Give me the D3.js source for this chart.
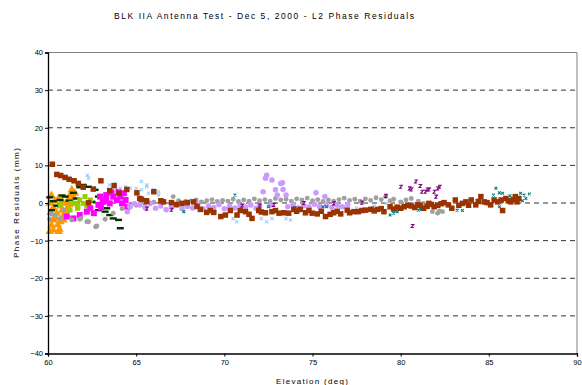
<!DOCTYPE html>
<html><head><meta charset="utf-8">
<script src="https://cdn.jsdelivr.net/npm/d3@7"></script>
<style>
html,body{margin:0;padding:0;background:#fff;}
svg{display:block;font-family:"Liberation Sans",Arial,sans-serif;}
</style></head>
<body>
<svg id="chart" width="582" height="385"></svg>
<script>
const titleText = "BLK IIA  Antenna Test - Dec 5, 2000 - L2 Phase Residuals";
const xLabel = "Elevation (deg)";
const yLabel = "Phase Residuals (mm)";
const xTicks = [60, 65, 70, 75, 80, 85, 90];
const yTicks = [-40, -30, -20, -10, 0, 10, 20, 30, 40];
const gridValues = [-30, -20, -10, 0, 10, 20, 30];

const orangeSeries = [[60.1,-7.6],[60.2,-5.9],[60.3,-7.2],[60.6,-7.6],[60.65,-7.0],[60.3,-4.5],[60.5,-2.7],[60.87,-4.5],[61.06,-3.2],[60.8,-1.9],[61.0,-0.1],[61.15,0.8],[61.25,2.1],[60.6,1.2],[60.1,-0.1],[60.3,-1.3],[60.45,-4.0],[60.7,-5.0],[60.9,-3.2],[61.15,-1.4],[61.35,0.3],[61.53,2.6],[61.35,3.5],[60.4,0.5],[60.2,2.0],[60.8,0.3],[60.15,-2.5],[60.55,-5.8],[61.0,-2.2],[61.2,-0.5],[61.45,1.5],[60.7,-0.8]];
const darkGreenSeries = [[60.1,1.5],[60.2,-1.9],[60.3,0.5],[60.5,-0.7],[60.68,0.8],[60.8,2.0],[60.97,1.7],[61.2,0.6],[61.44,2.7],[61.6,1.2],[61.8,4.2],[62.0,4.8],[62.3,4.3],[62.5,0.3],[62.67,3.5],[62.86,1.7],[62.86,-1.9],[63.05,-0.1],[63.24,-2.3],[63.33,-1.4],[63.5,-3.2],[63.7,-4.1],[64.0,-4.5],[64.1,-6.7]];
const limeSeries = [[60.7,-0.5],[61.25,-1.9],[61.3,-0.1],[61.44,-0.1],[61.6,-0.1],[61.67,-1.4],[61.7,-1.0],[61.8,0.8],[62.0,-0.1],[62.1,1.7],[62.4,0.8],[62.2,-0.8]];
const magentaSeries = [[61.06,-3.6],[61.44,-4.1],[61.8,-3.2],[62.2,-2.3],[62.4,-1.4],[62.6,-2.7],[62.86,-0.5],[62.95,1.7],[63.1,0.3],[63.3,2.1],[63.3,0.8],[63.5,-0.1],[63.7,1.7],[63.9,0.8],[64.0,3.0],[64.1,1.7],[64.2,-0.1],[64.3,2.6],[64.4,0.8],[64.5,-1.0],[63.6,2.8],[63.0,-1.2]];
const lightBlueSeries = [[62.23,7.4],[62.3,6.6],[63.5,4.8],[63.8,5.2],[64.1,3.9],[64.4,4.3],[64.66,3.9],[65.0,3.9],[65.3,3.5],[65.3,5.7],[65.6,4.3],[65.6,4.8],[65.7,2.6],[66.0,3.5],[66.27,3.0],[66.27,2.1],[70.5,-4.1],[70.7,-5.0],[72.1,-4.1],[72.4,-5.0],[72.7,-4.1],[73.5,-4.1],[73.75,-4.5],[75.45,-1.4],[76.5,-1.0],[77.5,-1.4],[78.5,-0.8],[79.2,-0.1],[79.8,-1.9],[80.4,-1.0],[80.95,-0.1],[81.2,-1.4]];
const lightPurpleSeries = [[64.5,-2.3],[64.66,-1.0],[64.9,-0.2],[65.2,-0.5],[65.5,-1.2],[65.8,-0.1],[66.1,-1.4],[66.4,-0.8],[66.7,-1.8],[67.0,-1.1],[67.3,-0.6],[67.6,-1.5],[67.9,-0.9],[68.2,-1.3],[68.5,-0.5],[68.8,-1.6],[69.1,-0.8],[69.4,-1.2],[69.7,-0.4],[70.0,-1.5],[70.3,-0.9],[70.6,-1.3],[70.9,-0.6],[71.2,-1.1],[71.5,-0.5],[71.8,-1.4],[72.0,-0.8],[72.2,3.0],[72.33,6.6],[72.4,7.4],[72.6,-0.6],[72.7,6.1],[72.9,3.5],[73.0,2.1],[73.2,5.2],[73.3,5.4],[73.33,3.6],[73.5,2.1],[73.6,-1.0],[73.9,-0.4],[74.2,-1.3],[74.5,-0.7],[74.8,-1.1],[75.2,2.7],[75.1,-0.3],[75.4,-0.9],[75.7,1.7],[75.8,-0.5],[76.1,-1.2],[76.4,-0.6],[76.7,-1.0],[77.0,-0.4]];
const graySeries = [[60.1,-4.3],[60.2,-3.0],[60.4,-3.2],[60.7,-4.1],[60.9,-1.9],[61.35,-4.5],[61.8,-4.3],[61.86,-4.1],[62.2,-5.0],[62.3,-5.0],[62.7,-6.3],[62.77,-6.1],[63.24,-4.3],[63.7,-2.7],[64.2,-1.5],[64.6,-0.8],[65.0,-0.6],[65.5,-0.5],[66.0,0.2],[66.5,0.5],[67.1,1.7],[67.4,0.6],[67.8,0.4],[68.1,0.5],[68.4,0.8],[68.7,0.3],[69.0,0.6],[69.3,0.9],[69.6,0.4],[69.9,0.7],[70.2,0.5],[70.5,1.0],[70.8,0.4],[71.1,0.8],[71.4,0.5],[71.7,1.1],[72.0,0.6],[72.3,0.9],[72.6,0.5],[72.9,1.2],[73.2,0.8],[73.5,1.0],[73.8,0.5],[74.1,1.1],[74.4,0.8],[74.7,1.3],[75.0,0.6],[75.3,0.9],[75.6,0.4],[75.9,0.8],[76.2,0.5],[76.5,0.9],[76.8,1.3],[77.1,0.7],[77.4,1.0],[77.7,0.5],[78.0,1.1],[78.3,0.7],[78.6,1.4],[78.9,0.9],[79.15,1.7],[79.4,0.6],[79.6,1.0],[80.0,0.3],[80.3,0.8],[80.6,1.2],[81.0,0.5],[81.3,-0.1],[81.8,-2.3],[82.1,-2.7],[82.2,-2.1],[82.37,-2.3]];
const tealSeries = [[67.7,-2.3],[70.6,2.1],[72.5,-1.0],[74.0,-1.2],[75.6,-1.0],[75.8,-1.0],[77.06,-2.3],[77.7,-1.9],[78.4,-1.3],[79.4,-3.2],[79.6,-2.7],[79.8,-2.3],[81.0,-1.9],[81.1,-1.6],[81.2,-1.7],[82.8,-0.6],[83.2,-1.9],[83.5,-2.0],[84.5,0.8],[85.26,2.1],[85.4,3.9],[85.6,2.7],[85.6,-1.0],[85.78,2.6],[86.2,1.9],[86.8,2.6],[86.9,0.6],[87.0,2.1],[87.1,1.2],[87.3,2.4]];
const purpleSeries = [[65.6,-1.5],[67.0,-1.8],[71.0,-0.7],[72.0,-0.7],[72.8,-0.5],[74.5,0.0],[76.2,-0.1],[77.8,0.1],[79.15,1.9],[80.0,4.3],[80.5,3.9],[80.6,3.6],[80.66,-6.1],[80.85,5.7],[81.1,4.5],[81.2,3.0],[81.4,3.0],[81.5,3.6],[81.6,3.6],[81.9,3.0],[82.0,1.7],[82.1,3.9],[82.2,4.3]];
const brownSeries = [[60.25,10.3],[60.5,7.6],[60.72,7.3],[60.97,6.8],[61.2,6.3],[61.48,5.9],[61.72,5.2],[62.0,4.2],[62.3,0.1],[62.57,3.7],[63.0,5.9],[63.5,3.3],[63.75,4.6],[64.03,2.6],[64.47,3.6],[65.04,2.7],[65.2,1.2],[65.3,1.0],[65.57,0.6],[65.6,0.4],[66.0,3.0],[66.4,0.6],[66.55,0.3],[67.0,0.1],[67.3,-0.4],[67.6,-0.1],[67.9,0.1],[68.26,0.3],[68.45,-0.9],[68.64,-1.7],[69.0,-2.5],[69.2,-2.0],[69.4,-2.5],[69.8,-3.6],[70.06,-3.2],[70.34,-2.0],[70.72,-3.2],[70.9,-2.0],[71.2,-2.3],[71.4,-3.0],[71.57,-4.1],[71.95,-2.0],[72.1,-2.4],[72.33,-2.6],[72.7,-2.3],[72.9,-2.0],[73.1,-2.7],[73.37,-2.6],[73.65,-2.7],[73.94,-1.7],[74.1,-2.2],[74.3,-1.7],[74.6,-2.6],[74.8,-2.0],[74.98,-2.7],[75.27,-2.9],[75.5,-2.2],[75.74,-3.6],[76.0,-3.0],[76.2,-2.6],[76.4,-2.2],[76.6,-2.9],[76.97,-1.9],[77.1,-2.6],[77.35,-2.3],[77.6,-2.3],[77.8,-2.0],[78.0,-1.9],[78.3,-1.7],[78.5,-2.1],[78.68,-1.7],[78.9,-1.5],[79.05,-2.3],[79.4,-1.0],[79.6,-1.6],[79.8,-1.1],[80.0,-1.4],[80.2,-1.0],[80.4,-0.6],[80.6,-0.8],[80.8,-1.2],[80.95,-0.5],[81.1,-0.6],[81.3,-1.4],[81.5,-0.9],[81.6,-0.1],[81.75,-0.4],[81.9,-1.0],[82.1,-0.6],[82.3,-0.2],[82.46,0.1],[82.7,-0.5],[82.9,-1.4],[83.1,0.8],[83.3,-0.6],[83.5,-0.1],[83.7,0.3],[83.85,-0.6],[84.0,0.8],[84.26,-0.5],[84.4,0.4],[84.55,1.7],[84.74,0.3],[84.9,0.1],[85.1,-0.5],[85.3,0.8],[85.5,0.3],[85.7,0.8],[85.78,-2.0],[85.97,1.2],[86.1,0.6],[86.25,0.3],[86.4,0.9],[86.5,1.7],[86.6,0.3],[86.7,1.2]];

const svg = d3.select("#chart");
const x = d3.scaleLinear().domain([60, 90]).range([48, 577]);
const y = d3.scaleLinear().domain([-40, 40]).range([353.5, 52.5]);

svg.append("text").attr("x", 264).attr("y", 19).attr("text-anchor", "middle")
  .attr("font-size", 8.5).attr("fill", "#000")
  .attr("textLength", 300).attr("lengthAdjust", "spacing").text(titleText);

svg.append("g").selectAll("line").data(gridValues).join("line")
  .attr("x1", x(60)).attr("x2", x(90)).attr("y1", d => y(d)).attr("y2", d => y(d))
  .attr("stroke", "#333").attr("stroke-width", 1).attr("stroke-dasharray", "5,4");

svg.append("line").attr("x1", x(60)).attr("x2", x(90)).attr("y1", y(40)).attr("y2", y(40)).attr("stroke", "#808080");
svg.append("line").attr("x1", x(90)).attr("x2", x(90)).attr("y1", y(40)).attr("y2", y(-40)).attr("stroke", "#808080");

const marks = svg.append("g");

function drawSquares(data, color, s) {
  marks.append("g").selectAll("rect").data(data).join("rect")
    .attr("x", d => x(d[0]) - s/2).attr("y", d => y(d[1]) - s/2)
    .attr("width", s).attr("height", s).attr("fill", color);
}
function drawSymbol(data, color, type, size) {
  const sym = d3.symbol().type(type).size(size);
  marks.append("g").selectAll("path").data(data).join("path")
    .attr("transform", d => `translate(${x(d[0])},${y(d[1])})`)
    .attr("d", sym()).attr("fill", color);
}
function drawDash(data, color) {
  marks.append("g").selectAll("rect").data(data).join("rect")
    .attr("x", d => x(d[0]) - 3.5).attr("y", d => y(d[1]) - 1.2)
    .attr("width", 7).attr("height", 2.4).attr("fill", color);
}
function drawCross(data, color, r) {
  marks.append("g").selectAll("path").data(data).join("path")
    .attr("transform", d => `translate(${x(d[0])},${y(d[1])})`)
    .attr("d", `M${-r},${-r}L${r},${r}M${-r},${r}L${r},${-r}`)
    .attr("stroke", color).attr("stroke-width", 1.1).attr("fill", "none");
}
function drawZ(data, color) {
  marks.append("g").selectAll("path").data(data).join("path")
    .attr("transform", d => `translate(${x(d[0])},${y(d[1])})`)
    .attr("d", "M-1.5,-1.5H1.5L-1,1.5H1.5")
    .attr("stroke", color).attr("stroke-width", 1.1).attr("fill", "none");
}

drawSymbol(orangeSeries, "#ff9900", d3.symbolTriangle, 32);
drawDash(darkGreenSeries, "#003300");
drawSquares(limeSeries, "#99cc00", 5);
drawSquares(magentaSeries, "#ff00ff", 6);
drawSymbol(graySeries, "#a0a0a0", d3.symbolCircle, 19);
drawCross(lightBlueSeries, "#99ccff", 1.6);
drawSymbol(lightPurpleSeries, "#cc99ff", d3.symbolCircle, 24);
drawCross(tealSeries, "#008080", 1.4);
drawZ(purpleSeries, "#800080");
drawSquares(brownSeries, "#993300", 5.5);

const yAxis = svg.append("g").attr("transform", `translate(${x(60)},0)`)
  .call(d3.axisLeft(y).tickValues(yTicks).tickSize(3).tickPadding(2).tickFormat(d3.format("d")));
const xAxis = svg.append("g").attr("transform", `translate(0,${y(-40)})`)
  .call(d3.axisBottom(x).tickValues(xTicks).tickSize(3).tickPadding(3).tickFormat(d3.format("d")));
[yAxis, xAxis].forEach(a => {
  a.select(".domain").attr("stroke", "#000").attr("stroke-width", 1.3);
  a.selectAll(".tick line").attr("stroke", "#000");
  a.selectAll("text").attr("font-size", 7.5).attr("fill", "#000")
    .attr("font-family", "'Liberation Sans', Arial, sans-serif");
});

svg.append("text").attr("x", 312).attr("y", 384).attr("text-anchor", "middle")
  .attr("font-size", 8).attr("textLength", 72).attr("lengthAdjust", "spacing").text(xLabel);
svg.append("text").attr("transform", "translate(19,203) rotate(-90)").attr("text-anchor", "middle")
  .attr("font-size", 8).attr("textLength", 110).attr("lengthAdjust", "spacing").text(yLabel);
</script>
</body></html>
